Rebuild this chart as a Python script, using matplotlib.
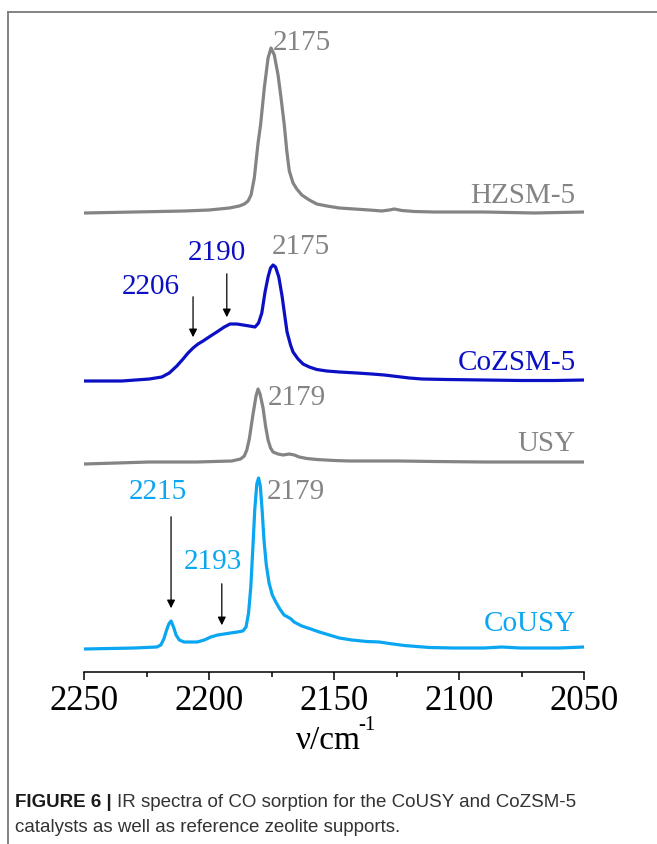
import numpy as np
import matplotlib
matplotlib.use('Agg')
import matplotlib.pyplot as plt
from matplotlib.lines import Line2D
from matplotlib.ticker import MultipleLocator

plt.rcParams['font.family'] = ['Liberation Serif', 'DejaVu Serif']

# spectra (wavenumber in cm-1, intensity in arbitrary units)
hzsm_wn = [2250, 2230, 2210, 2200, 2192, 2188, 2186, 2184.5, 2183.3, 2182, 2180.5, 2179.5,
           2178, 2176.5, 2175.3, 2174, 2172.5, 2171.3, 2170, 2169, 2168, 2166.5, 2165,
           2163, 2160, 2157, 2153, 2148, 2142, 2136, 2131, 2128, 2126, 2123, 2118, 2110,
           2090, 2070, 2050]
hzsm_int = [0, 1, 2, 3, 5, 7, 9, 12, 18, 35, 70, 88,
            125, 155, 165, 158, 138, 115, 88, 62, 42, 30, 24,
            18, 13, 9, 7, 5, 4, 3, 2, 3, 4, 2.5, 1.5, 1,
            1, 0, 1]

cozsm_wn = [2250, 2235, 2224, 2219, 2216, 2213, 2210.5, 2208.5, 2206.5, 2204.5, 2202.5, 2199.5,
            2197, 2194, 2191.7, 2189, 2186.5, 2184, 2181.7, 2180.3, 2179, 2177.7, 2176.5,
            2175.5, 2174.5, 2173.5, 2172.2, 2170.9, 2169.8, 2168.9, 2167.5, 2166.5, 2164.5,
            2162.5, 2160, 2157, 2153, 2148, 2141, 2135, 2130, 2125, 2120, 2115, 2105, 2090,
            2075, 2062, 2050]
cozsm_int = [0, 0, 2, 4, 8, 15, 22, 28, 33, 37, 40, 45,
             49, 54, 57, 57, 56, 55, 54, 58, 68, 89, 104,
             113, 116, 114, 104, 85, 65, 49, 36, 29, 22,
             17, 14, 11.5, 10, 9, 8, 7, 6, 4.5, 3, 2, 1.5, 1,
             0.5, 0.5, 1]

usy_wn = [2250, 2224, 2205, 2191, 2187.5, 2186, 2185, 2184, 2182.5, 2181.3, 2180.5, 2179.7,
          2178.5, 2177.5, 2176.5, 2175.5, 2174.5, 2172.5, 2170.5, 2168, 2166, 2164, 2161,
          2157, 2150, 2144, 2135, 2124, 2110, 2090, 2070, 2050]
usy_int = [0, 2, 2, 3, 5, 8, 14, 25, 50, 68, 75, 70,
           56, 38, 24, 16, 12, 10, 9, 10, 9, 7, 5.5,
           4.5, 3.5, 3, 3, 3, 2.5, 2, 2, 2]

cousy_wn = [2250, 2230, 2221, 2219.4, 2218.2, 2217.2, 2216.2, 2215.3, 2214.3, 2213.3, 2212,
            2210.1, 2207.5, 2204.8, 2202, 2199.4, 2196.7, 2194.1, 2191.5, 2188.8, 2186.6,
            2185.3, 2184.3, 2183.4, 2182.6, 2181.8, 2181, 2180.3, 2179.6, 2178.9, 2178.1,
            2177.2, 2176.1, 2174.8, 2173.4, 2171.8, 2170.1, 2168.6, 2167.3, 2166.1, 2163,
            2159.4, 2156, 2152, 2148, 2143, 2137, 2132, 2128, 2122, 2112, 2102.5, 2090,
            2083, 2075.7, 2060, 2050]
cousy_int = [0, 1, 2, 4, 10, 18, 25, 28, 22, 14, 9,
             7, 7, 7, 9, 12, 14, 15, 16, 17, 18,
             22, 36, 62, 100, 140, 165, 171, 163, 140, 108,
             84, 66, 54, 47, 40, 34, 32, 30, 27, 23,
             20, 17, 14, 11, 9, 7.5, 7, 5.5, 3.5, 1.5, 1, 1,
             2, 1, 1, 2]

# vertical offsets for the stacked spectra
offsets = [459, 291, 208, 23]
colors = ['#848484', '#0c10c4', '#848484', '#0aa6f2']
names = ['HZSM-5', 'CoZSM-5', 'USY', 'CoUSY']
name_y = [477, 310, 229, 49]

# peak labels: text, wavenumber, height, colour, alignment
peak_text = ['2175', '2175', '2190', '2206', '2179', '2215', '2179', '2193']
peak_x = [2174.5, 2175, 2197, 2223.5, 2176.5, 2220.7, 2177, 2198.7]
peak_y = [630, 426, 420, 386, 275, 181, 181, 111]
peak_col = ['#848484', '#848484', '#0c10c4', '#0c10c4', '#848484', '#0aa6f2', '#848484', '#0aa6f2']
peak_ha = ['left', 'left', 'center', 'center', 'left', 'center', 'left', 'center']

# arrows pointing at the Co bands: wavenumber, start height, tip height
arrow_x = [2206.5, 2193, 2215.3, 2195]
arrow_start = [378, 401, 158, 91]
arrow_end = [332, 352, 61, 44]

fig = plt.figure(figsize=(6.57, 8.45), dpi=100)
ax = fig.add_axes([84.3 / 657, 172 / 845, 500 / 657, 660 / 845])

spectra = [(hzsm_wn, hzsm_int), (cozsm_wn, cozsm_int), (usy_wn, usy_int), (cousy_wn, cousy_int)]
for (wn, inten), off, c in zip(spectra, offsets, colors):
    ax.plot(wn, np.array(inten) + off, color=c, lw=2.3, solid_joinstyle='round')

for name, y, c in zip(names, name_y, colors):
    ax.text(2053.5, y, name, color=c, fontsize=21, ha='right', va='center')

for t, x, y, c, ha in zip(peak_text, peak_x, peak_y, peak_col, peak_ha):
    ax.text(x, y, t, color=c, fontsize=21, ha=ha, va='center')

for x, y0, y1 in zip(arrow_x, arrow_start, arrow_end):
    ax.annotate('', xy=(x, y1), xytext=(x, y0),
                arrowprops=dict(arrowstyle='-|>', color='black', lw=0.9, mutation_scale=12))

ax.set_xlim(2250, 2050)
ax.set_ylim(0, 660)
ax.xaxis.set_major_locator(MultipleLocator(50))
ax.xaxis.set_minor_locator(MultipleLocator(25))
ax.set_yticks([])
for s in ['left', 'right', 'top']:
    ax.spines[s].set_visible(False)
ax.spines['bottom'].set_linewidth(1.1)
ax.tick_params(axis='x', which='major', direction='out', length=6, width=1.1, labelsize=25, pad=3)
ax.tick_params(axis='x', which='minor', direction='out', length=3.5, width=1.1)
ax.patch.set_alpha(0)

# x axis label, with a plain hyphen in the superscript like the original
fig.text(328 / 657, 1 - 741 / 845, 'ν/cm', fontsize=24, ha='center', va='center')
fig.text(358 / 657, 1 - 726 / 845, '-1', fontsize=15, ha='left', va='center')

# page frame lines (left and top)
fig.add_artist(Line2D([8 / 657, 8 / 657], [0, 1 - 13 / 845], transform=fig.transFigure,
                      color='#7a7a7a', lw=1.3))
fig.add_artist(Line2D([8 / 657, 1], [1 - 13 / 845, 1 - 13 / 845], transform=fig.transFigure,
                      color='#7a7a7a', lw=1.3))

# caption
bold = fig.text(15 / 657, 1 - 803 / 845, 'FIGURE 6 | ', fontsize=13.5, fontweight='bold',
                family='Liberation Sans', va='center', color='#1a1a1a')
fig.canvas.draw()
bb = bold.get_window_extent()
fig.text(bb.x1 / fig.bbox.width, 1 - 803 / 845,
         'IR spectra of CO sorption for the CoUSY and CoZSM-5', fontsize=13.5,
         family='Liberation Sans', va='center', color='#333333')
fig.text(15 / 657, 1 - 828 / 845, 'catalysts as well as reference zeolite supports.',
         fontsize=13.5, family='Liberation Sans', va='center', color='#333333')

fig.savefig('out.png', dpi=100)
